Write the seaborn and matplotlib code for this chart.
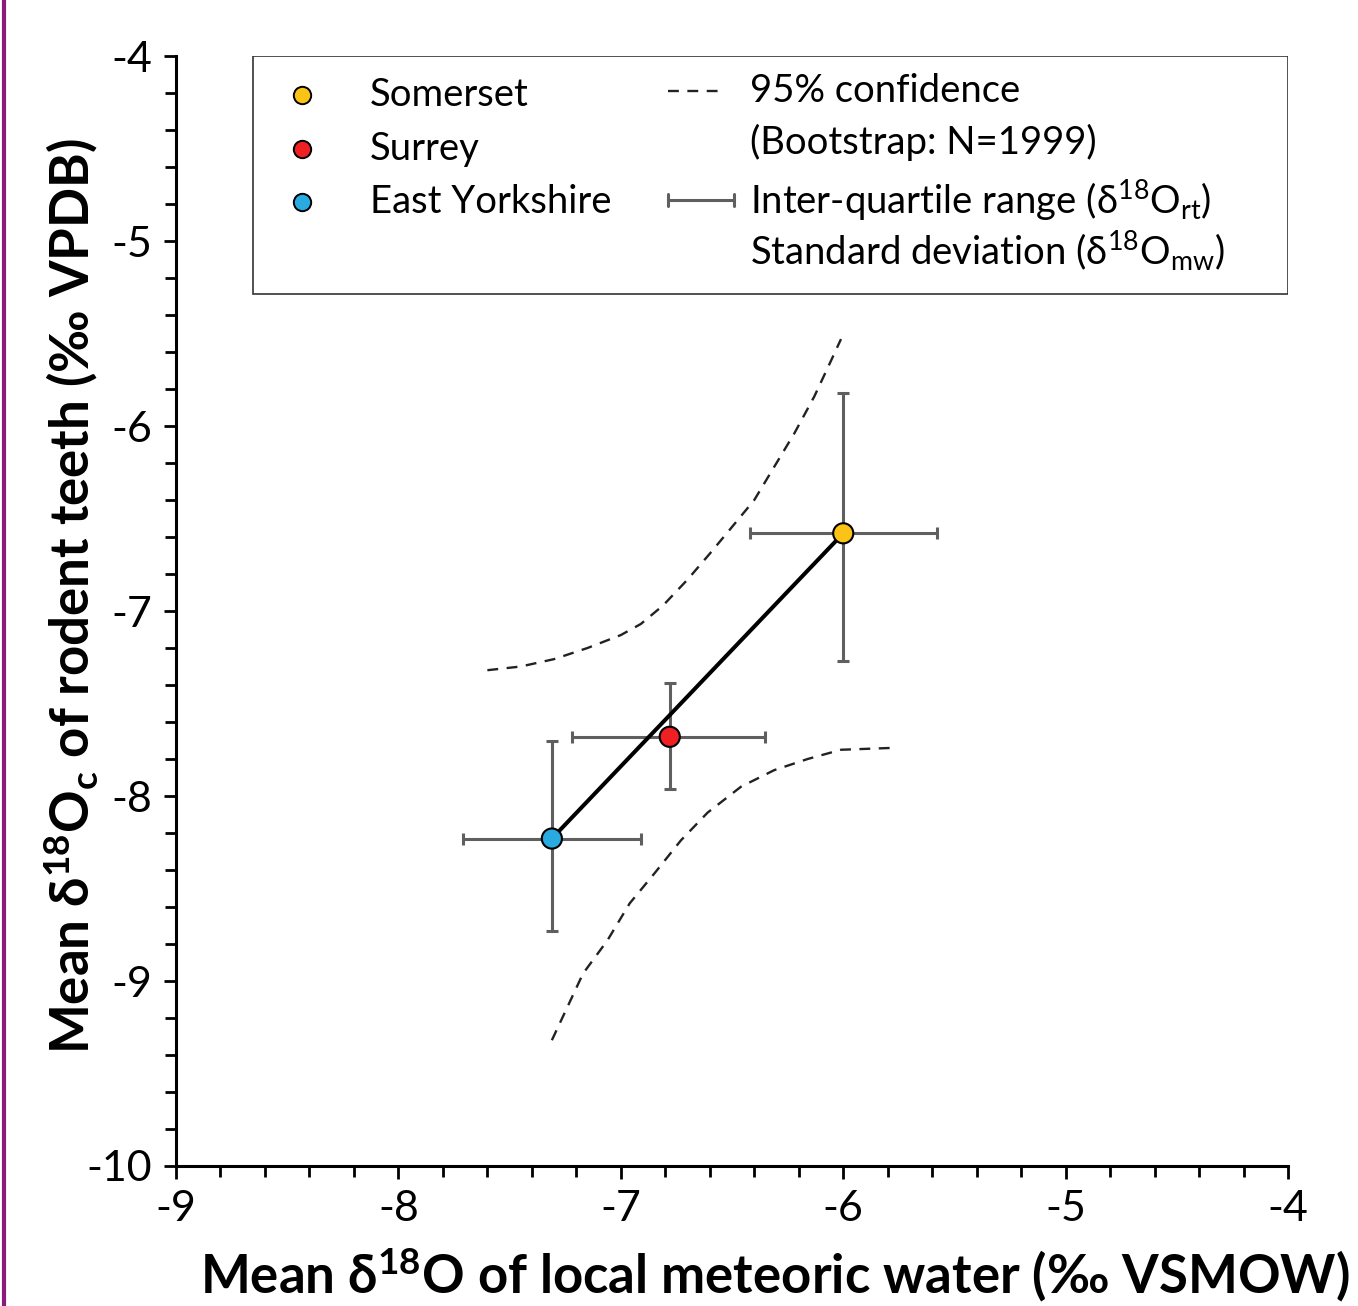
import numpy as np
import pandas as pd
import matplotlib.pyplot as plt
import seaborn as sns
from matplotlib.lines import Line2D
from matplotlib.patches import Rectangle

# site means and spread (x: meteoric water VSMOW, y: rodent teeth VPDB)
sites = ['Somerset', 'Surrey', 'East Yorkshire']
colors = ['#FBC316', '#EE2024', '#29AAE1']
mw_mean = [-6.00, -6.78, -7.31]
rt_mean = [-6.58, -7.68, -8.23]
mw_lo = [-6.42, -7.22, -7.71]
mw_hi = [-5.58, -6.35, -6.91]
rt_lo = [-7.27, -7.96, -8.73]
rt_hi = [-5.82, -7.39, -7.70]

# 95% bootstrap confidence band
ci_up_x = [-7.60, -7.45, -7.30, -7.15, -7.00, -6.91, -6.81, -6.70, -6.60,
           -6.51, -6.40, -6.31, -6.22, -6.13, -6.06, -6.01]
ci_up_y = [-7.32, -7.30, -7.26, -7.20, -7.13, -7.07, -6.97, -6.83, -6.69,
           -6.56, -6.40, -6.22, -6.04, -5.84, -5.66, -5.53]
ci_lo_x = [-7.31, -7.17, -7.06, -6.96, -6.85, -6.73, -6.61, -6.46, -6.31,
           -6.16, -6.01, -5.78]
ci_lo_y = [-9.32, -8.96, -8.78, -8.58, -8.42, -8.24, -8.09, -7.95, -7.86,
           -7.80, -7.75, -7.74]

sns.set_theme(style='white')
plt.rcParams['font.family'] = ['Lato', 'DejaVu Sans']
plt.rcParams['mathtext.default'] = 'regular'

df = pd.DataFrame({'site': sites, 'mw': mw_mean, 'rt': rt_mean})

fig = plt.figure(figsize=(13.58, 13.06), dpi=100)
ax = fig.add_axes([0.1296, 0.1072, 0.8189, 0.8499])

dash = (0, (4.6, 3.6))

# confidence curves
sns.lineplot(x=ci_up_x, y=ci_up_y, ax=ax, color='#222222', lw=1.7,
             estimator=None, sort=False, linestyle=dash)
sns.lineplot(x=ci_lo_x, y=ci_lo_y, ax=ax, color='#222222', lw=1.7,
             estimator=None, sort=False, linestyle=dash)

# error bars
for i in range(len(sites)):
    ax.errorbar(mw_mean[i], rt_mean[i],
                xerr=[[mw_mean[i] - mw_lo[i]], [mw_hi[i] - mw_mean[i]]],
                yerr=[[rt_mean[i] - rt_lo[i]], [rt_hi[i] - rt_mean[i]]],
                fmt='none', ecolor='#5f5f5f', elinewidth=2.2, capsize=4.5,
                capthick=2.2, zorder=2)

# line through the sites
order = np.argsort(mw_mean)
ax.plot(np.array(mw_mean)[order][[0, -1]], np.array(rt_mean)[order][[0, -1]],
        color='black', lw=2.9, zorder=3, solid_capstyle='round')

sns.scatterplot(data=df, x='mw', y='rt', hue='site', palette=colors,
                s=210, edgecolor='black', linewidth=1.5, legend=False,
                ax=ax, zorder=4)

ax.set_xlim(-9, -4)
ax.set_ylim(-10, -4)
ax.set_xticks(np.arange(-9, -3.5, 1))
ax.set_yticks(np.arange(-10, -3.5, 1))
ax.set_xticks(np.arange(-9, -3.9, 0.2), minor=True)
ax.set_yticks(np.arange(-10, -3.9, 0.2), minor=True)
ax.set_xticklabels([f'{v:g}' for v in np.arange(-9, -3.5, 1)])
ax.set_yticklabels([f'{v:g}' for v in np.arange(-10, -3.5, 1)])
ax.tick_params(axis='both', which='both', direction='out', color='black',
               width=2, labelsize=31, labelcolor='black')
ax.tick_params(which='major', length=9, pad=8)
ax.tick_params(which='minor', length=8)
ax.tick_params(axis='x', bottom=True, which='both')
ax.tick_params(axis='y', left=True, which='both')
for s in ['top', 'right']:
    ax.spines[s].set_visible(False)
for s in ['left', 'bottom']:
    ax.spines[s].set_color('black')
    ax.spines[s].set_linewidth(2.2)

ax.set_xlabel('Mean δ$^{18}$O of local meteoric water (‰ VSMOW)',
              fontsize=38, fontweight='bold', color='black')
ax.set_ylabel('Mean δ$^{18}$O$_{c}$ of rodent teeth (‰ VPDB)',
              fontsize=38, fontweight='bold', color='black')
ax.xaxis.set_label_coords(0.538, -0.071)
ax.yaxis.set_label_coords(-0.068, 0.513)

# legend box drawn in axes coordinates
tr = ax.transAxes
ax.add_patch(Rectangle((0.0692, 0.7856), 0.9308, 0.2144, transform=tr,
                       facecolor='white', edgecolor='#333333', lw=1.2, zorder=5))
rows = [0.9649, 0.9162, 0.8685]
for name, c, yy in zip(sites, colors, rows):
    ax.plot([0.1133], [yy], 'o', ms=12.5, mfc=c, mec='black', mew=1.4,
            transform=tr, zorder=6, clip_on=False)
    ax.text(0.1745, yy, name, transform=tr, fontsize=27.5, va='center',
            ha='left', color='black', zorder=6)
ax.add_line(Line2D([0.4424, 0.4928], [0.9685, 0.9685], transform=tr,
                   color='#222222', lw=1.7, linestyle=dash, zorder=6))
ax.add_line(Line2D([0.4424, 0.5018], [0.8703, 0.8703], transform=tr,
                   color='#5f5f5f', lw=2.2, zorder=6))
for xx in [0.4424, 0.5018]:
    ax.add_line(Line2D([xx, xx], [0.8648, 0.8758], transform=tr,
                       color='#5f5f5f', lw=2.2, zorder=6))
leg_text = ['95% confidence', '(Bootstrap: N=1999)',
            'Inter-quartile range (δ$^{18}$O$_{rt}$)',
            'Standard deviation (δ$^{18}$O$_{mw}$)']
for t, yy in zip(leg_text, [0.9685, 0.9225, 0.8703, 0.8243]):
    ax.text(0.5162, yy, t, transform=tr, fontsize=27.5, va='center',
            ha='left', color='black', zorder=6)

# purple page rule at left edge
fig.add_artist(Line2D([0.0033, 0.0033], [0, 1], transform=fig.transFigure,
                      color='#8C1A7B', lw=3))

fig.savefig('out.png', dpi=100)
